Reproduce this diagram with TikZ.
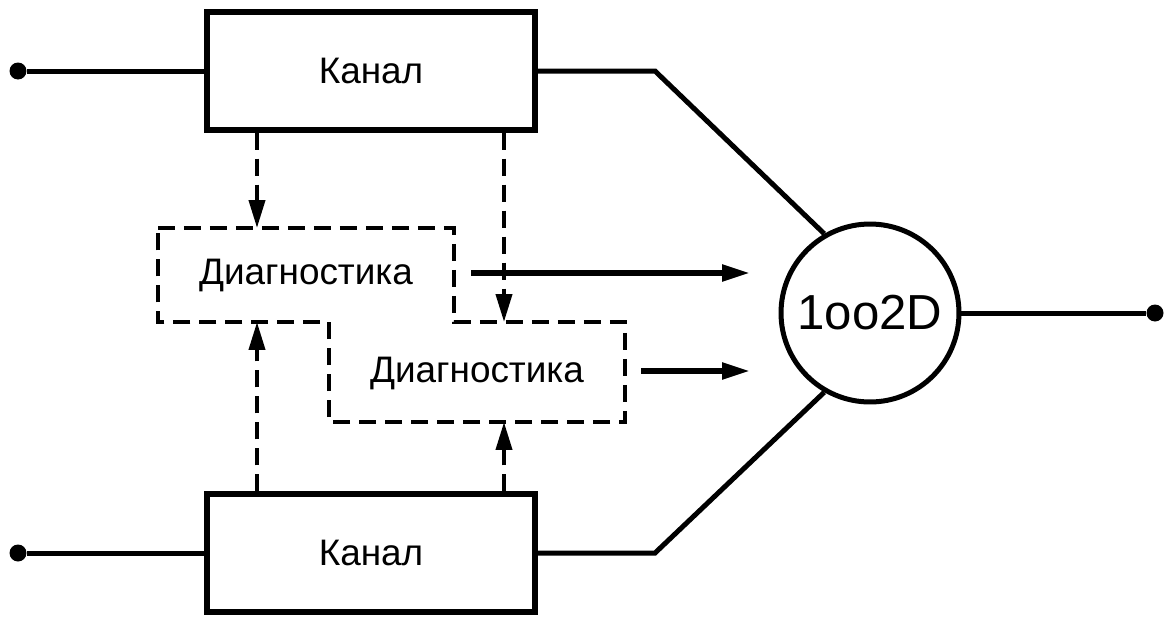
\documentclass[tikz,border=0pt]{standalone}
\usepackage{fontspec}
\setmainfont{Liberation Sans}
\usetikzlibrary{arrows.meta}

\tikzset{
	blok/.style={draw,line width=0.11cm,minimum width=6.56cm,minimum height=2.36cm,inner sep=0pt,font=\fontsize{21}{25}\selectfont},
	diag/.style={inner sep=0pt,font=\fontsize{21}{25}\selectfont},
	liniya/.style={line width=0.1cm},
	shtrih/.style={line width=0.08cm,dash pattern=on 0.34cm off 0.18cm},
	strelka/.style={-{Triangle[length=0.56cm,width=0.32cm]}},
	tochka/.style={circle,fill,inner sep=0pt,minimum size=0.34cm}
}

\begin{document}
\begin{tikzpicture}[x=0.02cm,y=-0.02cm]
			\useasboundingbox (0,0) rectangle (1171,629);
			
			\node[blok] (k1) at (371,71) {Канал};
			\node[blok] (k2) at (371,553) {Канал};
			\node[circle,draw,line width=0.1cm,minimum size=3.56cm,font=\fontsize{28}{32}\selectfont] (c) at (870,313) {1oo2D};
			
			\node[tochka] (t1) at (18,71) {};
			\node[tochka] (t2) at (18,553) {};
			\node[tochka] (t3) at (1155,313) {};
			
			\draw[shtrih] (158,228) -- (454,228) -- (454,322) -- (625,322) -- (625,422) -- (329,422) -- (329,322) -- (158,322) -- cycle;
			\node[diag] (d1) at (306,275) {Диагностика};
			\node[diag] (d2) at (477,373) {Диагностика};
			
			\coordinate (z1) at (655,71);
			\coordinate (z2) at (655,553);
			\draw[liniya] (t1) -- (k1.west);
			\draw[liniya] (t2) -- (k2.west);
			\draw[liniya] (k1.east) -- (z1) -- (c.120);
			\draw[liniya] (k2.east) -- (z2) -- (c.240);
			\draw[liniya] (c.east) -- (t3);
			
			\coordinate (v1) at (257,228);
			\coordinate (v2) at (504,322);
			\coordinate (n1) at (257,322);
			\coordinate (n2) at (504,422);
			\draw[shtrih,strelka] (k1.south -| v1) -- (v1);
			\draw[shtrih,strelka] (k1.south -| v2) -- (v2);
			\draw[shtrih,strelka] (k2.north -| n1) -- (n1);
			\draw[shtrih,strelka] (k2.north -| n2) -- (n2);
			
			\coordinate (a1) at (471,273);
			\coordinate (b1) at (750,273);
			\coordinate (a2) at (641,371);
			\coordinate (b2) at (750,371);
			\draw[line width=0.11cm,strelka] (a1) -- (b1);
			\draw[line width=0.11cm,strelka] (a2) -- (b2);
\end{tikzpicture}
\end{document}
